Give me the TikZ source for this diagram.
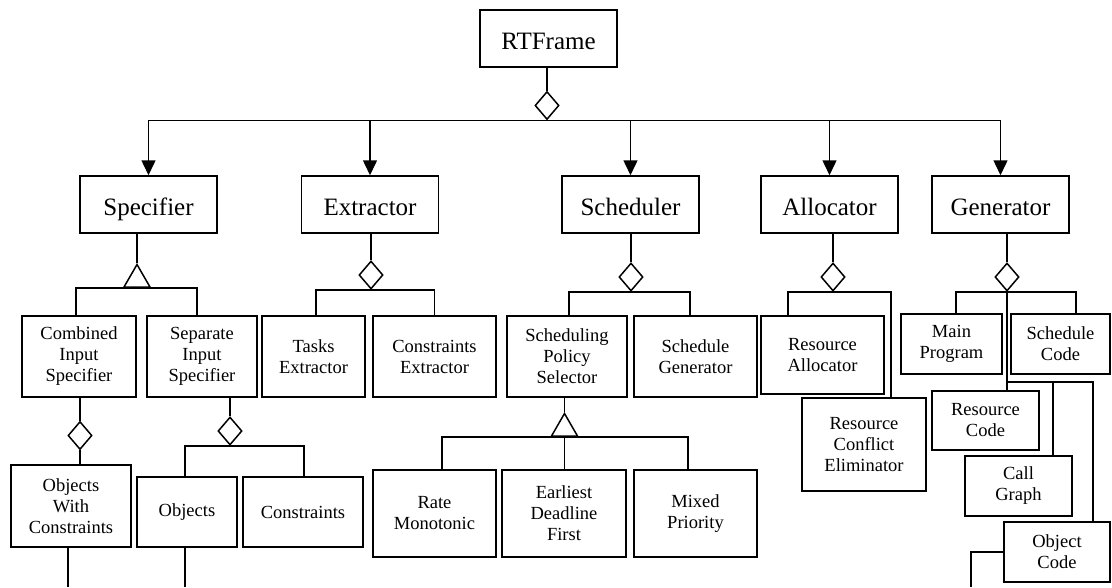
\documentclass[tikz,border=0pt]{standalone}
\usepackage{fontspec}
\setmainfont{Liberation Serif}
\usetikzlibrary{arrows.meta,shapes.geometric}

\tikzset{
  cls/.style={draw,align=center,inner sep=0pt},
  bigcls/.style={cls,minimum width=137pt,minimum height=57pt,text height=22pt,text depth=0pt,font=\fontsize{25}{28}\selectfont},
  sbox/.style 2 args={cls,minimum width=#1,minimum height=#2,font=\fontsize{18.5}{21}\selectfont},
  agg/.style={diamond,draw,fill=white,minimum width=24pt,minimum height=28pt,inner sep=0pt},
  inh/.style={regular polygon,regular polygon sides=3,draw,minimum size=30pt,inner sep=0pt,anchor=corner 1},
  arr/.style={-{Triangle[length=15pt,width=14pt]}}
}

\begin{document}
\begin{tikzpicture}[x=1pt,y=-1pt,line width=1.5pt]
  \useasboundingbox (0,0) rectangle (1112,587);
  \node[bigcls] (rtf) at (548.5,38.5) {RTFrame};
  \node[bigcls] (spec) at (148.5,204.5) {Specifier};
  \node[bigcls] (extr) at (370,204.5) {Extractor};
  \node[bigcls] (sched) at (630.5,204.5) {Scheduler};
  \node[bigcls] (alloc) at (829.5,204.5) {Allocator};
  \node[bigcls] (gen) at (1000.5,204.5) {Generator};

  \node[agg] (agg0) at (547,105.5) {};
  \draw (rtf.south -| agg0) -- (agg0.north);
  \foreach \c in {spec,extr,sched,alloc,gen}
    \draw[arr] (agg0.south) -| (\c.north);

  % parts and kinds
  \node[sbox={114pt}{81pt}] (cis) at (79,356.5) {Combined\\Input\\Specifier};
  \node[sbox={110pt}{81pt}] (sis) at (202,356.5) {Separate\\Input\\Specifier};
  \node[sbox={103pt}{81pt}] (tex) at (313.5,356.5) {Tasks\\Extractor};
  \node[sbox={123pt}{81pt}] (cex) at (434.5,356.5) {Constraints\\Extractor};
  \node[sbox={120pt}{81pt}] (sps) at (567,356.5) {Scheduling\\Policy\\Selector};
  \node[sbox={123pt}{81pt}] (sgen) at (695.5,356.5) {Schedule\\Generator};
  \node[sbox={123pt}{78pt}] (ralloc) at (822.5,355) {Resource\\Allocator};
  \node[sbox={124pt}{93pt}] (rce) at (864,444.5) {Resource\\Conflict\\Eliminator};
  \node[sbox={101pt}{60pt}] (mprog) at (951.5,344) {Main\\Program};
  \node[sbox={99pt}{60pt}] (scode) at (1060.5,344) {Schedule\\Code};
  \node[sbox={107pt}{59pt}] (rcode) at (985.5,420.5) {Resource\\Code};
  \node[sbox={107pt}{60pt}] (cgraph) at (1018.5,486) {Call\\Graph};
  \node[sbox={106pt}{60pt}] (ocode) at (1057,552) {Object\\Code};

  \node[sbox={120pt}{82pt}] (owc) at (71,506) {Objects\\With\\Constraints};
  \node[sbox={100pt}{70pt}] (objs) at (187,512) {Objects};
  \node[sbox={120pt}{70pt}] (cons) at (303,512) {Constraints};
  \node[sbox={123pt}{87pt}] (rm) at (434.5,513.5) {Rate\\Monotonic};
  \node[sbox={124pt}{87pt}] (edf) at (564,513.5) {Earliest\\Deadline\\First};
  \node[sbox={123pt}{87pt}] (mpri) at (695.5,513.5) {Mixed\\Priority};

  % Specifier
  \node[inh] (inh1) at (137,263) {};
  \draw (inh1.corner 1 |- spec.south) -- (inh1.corner 1);
  \draw (inh1.side 2) -| ([xshift=-3pt]cis.north);
  \draw (inh1.side 2) -| ([xshift=-5pt]sis.north);

  % Extractor
  \node[agg] (aggx) at (371,275) {};
  \draw (aggx |- extr.south) -- (aggx.north);
  \draw (aggx.south) -| ([xshift=2.5pt]tex.north);
  \draw (aggx.south) -| (cex.north);

  % Scheduler
  \node[agg] (aggs) at (631,277) {};
  \draw (aggs |- sched.south) -- (aggs.north);
  \draw (aggs.south) -| ([xshift=2pt]sps.north);
  \draw (aggs.south) -| ([xshift=-5.5pt]sgen.north);

  % Allocator
  \node[agg] (agga) at (833,277) {};
  \draw (agga |- alloc.south) -- (agga.north);
  \draw (agga.south) -| ([xshift=-34.5pt]ralloc.north);
  \draw (agga.south) -| ([xshift=27pt]rce.north);

  % Generator
  \node[agg] (aggg) at (1007,277) {};
  \draw (aggg |- gen.south) -- (aggg.north);
  \draw (aggg.south) -| ([xshift=4.5pt]mprog.north);
  \draw (aggg.south) -| ([xshift=15.5pt]scode.north);
  \draw (aggg.south) -- (aggg.south |- rcode.north);
  \coordinate (gb) at (1007,382);
  \draw (gb) -| ([xshift=34.5pt]cgraph.north);
  \draw (gb) -| ([xshift=36pt]ocode.north);
  \coordinate (oend) at (971,587);
  \draw (ocode.west) -| (oend);

  % Combined / Separate Input Specifier
  \node[agg] (aggc) at (80,435.5) {};
  \draw (aggc |- cis.south) -- (aggc.north);
  \draw (aggc.south) -- (aggc.south |- owc.north);
  \coordinate (owcend) at (68,587);
  \draw (owc.south -| owcend) -- (owcend);

  \node[agg] (aggi) at (230,431) {};
  \draw (aggi |- sis.south) -- (aggi.north);
  \draw (aggi.south) -| ([xshift=-2pt]objs.north);
  \draw (aggi.south) -| ([xshift=1pt]cons.north);
  \coordinate (objend) at (185,587);
  \draw (objs.south -| objend) -- (objend);

  % Scheduling Policy Selector
  \node[inh] (inh2) at (564.5,412) {};
  \draw (inh2.corner 1 |- sps.south) -- (inh2.corner 1);
  \draw (inh2.side 2) -| ([xshift=7.5pt]rm.north);
  \draw (inh2.side 2) -- (inh2.side 2 |- edf.north);
  \draw (inh2.side 2) -| ([xshift=-7.5pt]mpri.north);
\end{tikzpicture}
\end{document}
